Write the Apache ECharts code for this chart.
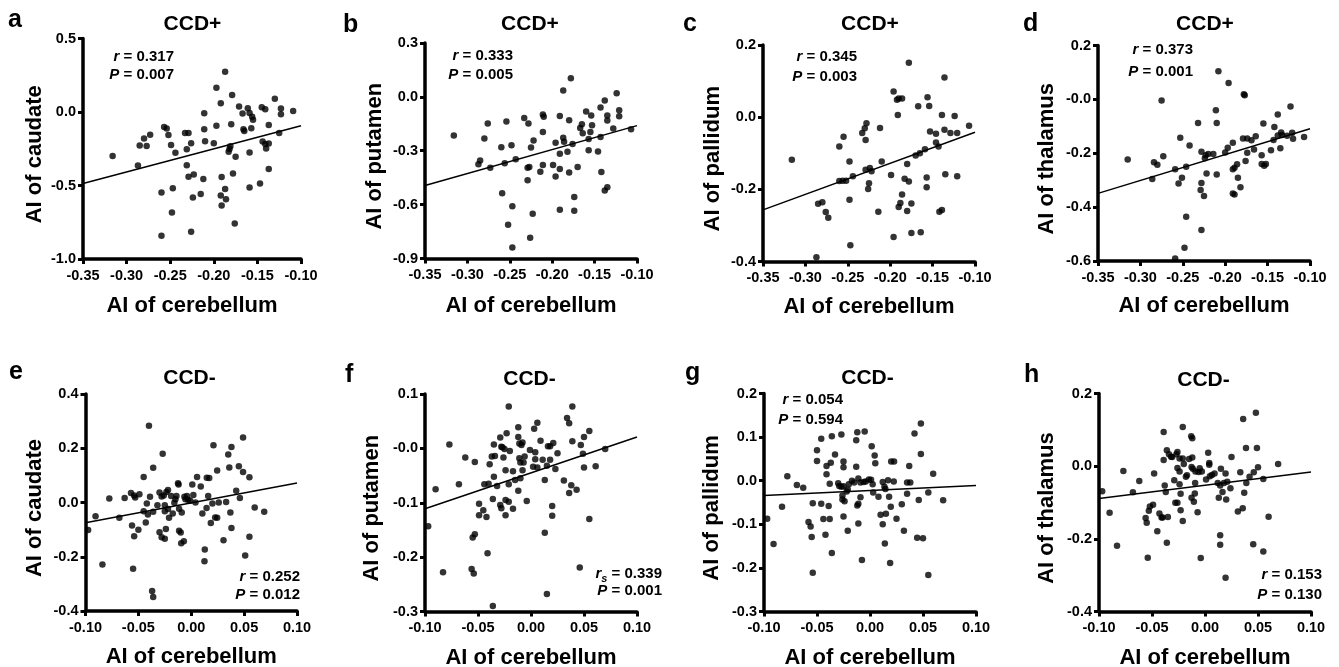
<!DOCTYPE html>
<html>
<head>
<meta charset="utf-8">
<script src="https://cdn.jsdelivr.net/npm/echarts@6/dist/echarts.min.js"></script>
<style>
html,body{margin:0;padding:0;background:#fff;}
#chart{width:1339px;height:667px;}
</style>
</head>
<body>
<div id="chart"></div>
<script>
// ---------- data ----------
const panelLetters = ['a','b','c','d','e','f','g','h'];
const panelTitles = ['CCD+','CCD+','CCD+','CCD+','CCD-','CCD-','CCD-','CCD-'];
const yNames = ['AI of caudate','AI of putamen','AI of pallidum','AI of thalamus','AI of caudate','AI of putamen','AI of pallidum','AI of thalamus'];
const xName = 'AI of cerebellum';
const rSymbols = ['r','r','r','r','r','rs','r','r'];
const rValues = ['0.317','0.333','0.345','0.373','0.252','0.339','0.054','0.153'];
const pValues = ['0.007','0.005','0.003','0.001','0.012','0.001','0.594','0.130'];

const xLab1 = ['-0.35','-0.30','-0.25','-0.20','-0.15','-0.10'];
const xLab2 = ['-0.10','-0.05','0.00','0.05','0.10'];
const yLabA = ['-1.0','-0.5','0.0','0.5'];
const yLabB = ['-0.9','-0.6','-0.3','0.0','0.3'];
const yLabC = ['-0.4','-0.2','0.0','0.2'];
const yLabD = ['-0.6','-0.4','-0.2','-0.0','0.2'];
const yLabE = ['-0.4','-0.2','0.0','0.2','0.4'];
const yLabF = ['-0.3','-0.2','-0.1','-0.0','0.1'];
const yLabG = ['-0.3','-0.2','-0.1','0.0','0.1','0.2'];
const yLabH = ['-0.4','-0.2','0.0','0.2'];

const lineA = [[-0.35,-0.486],[-0.10,-0.093]];
const lineB = [[-0.35,-0.493],[-0.10,-0.160]];
const lineC = [[-0.35,-0.257],[-0.10,-0.042]];
const lineD = [[-0.35,-0.349],[-0.10,-0.109]];
const lineE = [[-0.10,-0.075],[0.10,0.072]];
const lineF = [[-0.10,-0.111],[0.10,0.021]];
const lineG = [[-0.10,-0.034],[0.10,-0.011]];
const lineH = [[-0.10,-0.089],[0.10,-0.016]];

const dataA = [[-0.316,-0.300],[-0.287,-0.364],[-0.285,-0.228],[-0.280,-0.181],[-0.277,-0.231],[-0.273,-0.154],[-0.257,-0.102],[-0.254,-0.113],[-0.252,-0.156],[-0.249,-0.224],[-0.244,-0.278],[-0.260,-0.548],[-0.247,-0.518],[-0.248,-0.683],[-0.260,-0.842],[-0.233,-0.143],[-0.229,-0.143],[-0.231,-0.253],[-0.226,-0.213],[-0.231,-0.362],[-0.229,-0.441],[-0.223,-0.425],[-0.224,-0.581],[-0.226,-0.814],[-0.215,-0.557],[-0.211,-0.009],[-0.211,-0.118],[-0.210,-0.199],[-0.212,-0.455],[-0.200,-0.213],[-0.197,-0.093],[-0.197,0.165],[-0.192,0.059],[-0.187,0.274],[-0.191,-0.443],[-0.192,-0.568],[-0.191,-0.636],[-0.187,-0.523],[-0.186,-0.593],[-0.183,-0.271],[-0.182,-0.251],[-0.181,-0.233],[-0.180,-0.084],[-0.179,0.115],[-0.175,-0.305],[-0.178,-0.419],[-0.176,-0.758],[-0.171,0.038],[-0.167,-0.011],[-0.166,-0.118],[-0.165,-0.129],[-0.161,0.025],[-0.159,-0.007],[-0.159,-0.276],[-0.157,-0.111],[-0.156,-0.032],[-0.155,-0.052],[-0.159,-0.514],[-0.147,-0.486],[-0.145,0.032],[-0.144,-0.201],[-0.141,-0.217],[-0.141,0.018],[-0.140,-0.249],[-0.137,-0.088],[-0.137,-0.215],[-0.137,-0.387],[-0.130,0.090],[-0.123,0.023],[-0.123,-0.016],[-0.125,-0.143],[-0.109,0.007]];

const dataB = [[-0.316,-0.215],[-0.287,-0.375],[-0.285,-0.354],[-0.280,-0.232],[-0.276,-0.148],[-0.273,-0.395],[-0.260,-0.280],[-0.254,-0.137],[-0.248,-0.269],[-0.256,-0.369],[-0.243,-0.347],[-0.259,-0.536],[-0.247,-0.609],[-0.252,-0.712],[-0.247,-0.839],[-0.233,-0.117],[-0.228,-0.148],[-0.229,-0.395],[-0.227,-0.390],[-0.229,-0.464],[-0.225,-0.282],[-0.222,-0.243],[-0.223,-0.651],[-0.226,-0.785],[-0.214,-0.417],[-0.211,-0.380],[-0.211,-0.098],[-0.210,-0.111],[-0.211,-0.195],[-0.199,-0.380],[-0.196,-0.256],[-0.196,-0.443],[-0.191,-0.106],[-0.191,-0.317],[-0.191,-0.401],[-0.191,-0.629],[-0.187,0.035],[-0.187,-0.228],[-0.186,-0.250],[-0.182,-0.306],[-0.180,-0.130],[-0.180,-0.421],[-0.178,0.104],[-0.176,-0.263],[-0.174,-0.558],[-0.174,-0.634],[-0.170,-0.391],[-0.167,-0.174],[-0.165,-0.152],[-0.164,-0.202],[-0.160,-0.082],[-0.157,-0.234],[-0.157,-0.297],[-0.155,-0.195],[-0.154,-0.104],[-0.153,-0.158],[-0.146,-0.304],[-0.143,-0.059],[-0.143,-0.224],[-0.142,-0.419],[-0.138,-0.020],[-0.138,-0.521],[-0.135,-0.503],[-0.135,-0.104],[-0.135,-0.132],[-0.128,-0.176],[-0.124,0.020],[-0.121,-0.074],[-0.121,-0.108],[-0.107,-0.180]];

const dataC = [[-0.316,-0.118],[-0.285,-0.240],[-0.280,-0.236],[-0.276,-0.263],[-0.273,-0.279],[-0.287,-0.388],[-0.260,-0.081],[-0.255,-0.054],[-0.260,-0.177],[-0.256,-0.176],[-0.252,-0.176],[-0.248,-0.123],[-0.244,-0.164],[-0.248,-0.229],[-0.247,-0.355],[-0.233,-0.044],[-0.230,-0.031],[-0.228,-0.017],[-0.229,-0.063],[-0.229,-0.146],[-0.224,-0.141],[-0.222,-0.150],[-0.225,-0.183],[-0.226,-0.199],[-0.212,-0.030],[-0.210,-0.123],[-0.214,-0.262],[-0.199,-0.160],[-0.196,0.071],[-0.192,0.048],[-0.190,0.052],[-0.186,0.052],[-0.191,0.006],[-0.196,-0.332],[-0.190,-0.249],[-0.188,-0.238],[-0.186,-0.214],[-0.183,-0.171],[-0.180,-0.130],[-0.180,-0.260],[-0.178,-0.178],[-0.178,0.151],[-0.175,-0.321],[-0.175,-0.239],[-0.170,-0.106],[-0.167,0.030],[-0.165,-0.100],[-0.164,-0.319],[-0.159,-0.089],[-0.157,-0.167],[-0.157,-0.194],[-0.156,0.055],[-0.154,0.031],[-0.153,-0.040],[-0.146,-0.046],[-0.146,-0.070],[-0.143,-0.081],[-0.142,-0.262],[-0.139,-0.257],[-0.139,0.006],[-0.136,0.110],[-0.136,-0.035],[-0.135,-0.158],[-0.129,-0.044],[-0.124,0.003],[-0.121,-0.044],[-0.121,-0.164],[-0.107,-0.024]];

const dataD = [[-0.315,-0.223],[-0.286,-0.296],[-0.284,-0.233],[-0.280,-0.243],[-0.275,-0.004],[-0.273,-0.211],[-0.259,-0.259],[-0.255,-0.312],[-0.253,-0.142],[-0.251,-0.291],[-0.246,-0.250],[-0.242,-0.171],[-0.246,-0.436],[-0.248,-0.551],[-0.259,-0.591],[-0.232,-0.088],[-0.228,-0.194],[-0.228,-0.310],[-0.229,-0.336],[-0.225,-0.359],[-0.224,-0.219],[-0.223,-0.207],[-0.222,-0.275],[-0.220,-0.203],[-0.228,-0.485],[-0.214,-0.203],[-0.211,-0.040],[-0.210,-0.088],[-0.210,-0.279],[-0.208,0.104],[-0.200,-0.197],[-0.197,-0.180],[-0.196,0.061],[-0.191,-0.161],[-0.191,-0.259],[-0.189,-0.254],[-0.191,-0.349],[-0.189,-0.353],[-0.186,-0.241],[-0.185,-0.291],[-0.182,-0.326],[-0.179,-0.145],[-0.178,0.019],[-0.177,0.015],[-0.176,-0.229],[-0.174,-0.145],[-0.174,-0.198],[-0.169,-0.152],[-0.166,-0.186],[-0.164,-0.137],[-0.157,-0.207],[-0.157,-0.240],[-0.154,-0.246],[-0.152,-0.240],[-0.155,-0.090],[-0.146,-0.189],[-0.143,-0.151],[-0.142,-0.103],[-0.138,-0.056],[-0.138,-0.134],[-0.135,-0.181],[-0.134,-0.123],[-0.133,-0.132],[-0.127,-0.135],[-0.123,-0.026],[-0.121,-0.124],[-0.120,-0.146],[-0.107,-0.140]];

const dataE = [[-0.0975,-0.101],[-0.0905,-0.051],[-0.084,-0.229],[-0.0775,0.015],[-0.068,-0.056],[-0.063,0.017],[-0.057,0.035],[-0.056,-0.085],[-0.055,-0.244],[-0.054,0.026],[-0.054,-0.124],[-0.053,0.018],[-0.050,-0.100],[-0.049,0.030],[-0.045,0.094],[-0.045,-0.032],[-0.043,-0.074],[-0.042,-0.004],[-0.041,-0.044],[-0.040,0.283],[-0.039,0.021],[-0.037,-0.326],[-0.036,-0.348],[-0.036,0.128],[-0.036,-0.034],[-0.032,-0.010],[-0.030,0.037],[-0.030,-0.110],[-0.028,0.022],[-0.028,-0.128],[-0.027,0.180],[-0.026,0.026],[-0.025,-0.134],[-0.025,-0.032],[-0.024,-0.098],[-0.0235,0.039],[-0.022,0.046],[-0.025,-0.010],[-0.022,-0.024],[-0.021,-0.056],[-0.019,0.024],[-0.0175,-0.041],[-0.016,-0.001],[-0.015,0.012],[-0.014,0.024],[-0.0125,0.071],[-0.012,0.066],[-0.0115,-0.023],[-0.0115,-0.104],[-0.010,-0.111],[-0.009,-0.037],[-0.0095,-0.150],[-0.007,-0.143],[-0.0065,0.021],[-0.0055,0.012],[-0.004,0.024],[-0.003,0.010],[-0.001,0.006],[0.001,0.066],[0.002,0.028],[0.004,0.000],[0.0055,0.094],[0.009,0.059],[0.0105,-0.041],[0.0128,-0.173],[0.0125,-0.217],[0.0145,-0.020],[0.0147,0.091],[0.016,0.024],[0.017,0.090],[0.0185,-0.076],[0.020,-0.004],[0.021,0.211],[0.0226,-0.055],[0.0245,0.118],[0.0245,-0.056],[0.026,0.000],[0.0305,-0.139],[0.033,0.002],[0.035,0.177],[0.036,0.129],[0.037,-0.037],[0.038,0.205],[0.038,-0.094],[0.0425,0.043],[0.045,0.134],[0.046,0.017],[0.049,0.240],[0.049,0.112],[0.051,-0.195],[0.055,0.093],[0.055,-0.126],[0.060,-0.018],[0.069,-0.034]];

const dataF = [[-0.097,-0.143],[-0.090,-0.075],[-0.083,-0.228],[-0.077,0.007],[-0.068,-0.066],[-0.062,-0.017],[-0.056,-0.222],[-0.054,-0.230],[-0.055,-0.164],[-0.053,-0.158],[-0.053,-0.025],[-0.049,-0.102],[-0.049,-0.123],[-0.045,-0.114],[-0.044,-0.066],[-0.042,-0.126],[-0.041,-0.193],[-0.040,-0.065],[-0.039,-0.029],[-0.037,-0.015],[-0.036,-0.290],[-0.036,-0.093],[-0.035,-0.052],[-0.035,0.007],[-0.034,-0.014],[-0.032,-0.069],[-0.029,-0.104],[-0.029,0.020],[-0.028,0.003],[-0.028,-0.110],[-0.027,0.002],[-0.026,-0.017],[-0.025,-0.001],[-0.024,-0.040],[-0.024,-0.095],[-0.024,-0.123],[-0.023,0.028],[-0.021,0.077],[-0.021,-0.098],[-0.021,-0.066],[-0.020,-0.005],[-0.017,-0.042],[-0.017,-0.111],[-0.015,-0.058],[-0.012,-0.078],[-0.012,0.039],[-0.012,0.021],[-0.011,0.009],[-0.011,-0.018],[-0.010,-0.055],[-0.010,-0.026],[-0.009,0.006],[-0.008,0.011],[-0.008,-0.040],[-0.007,-0.026],[-0.006,-0.015],[-0.004,-0.097],[-0.001,-0.003],[0.002,-0.034],[0.003,0.036],[0.004,-0.007],[0.004,-0.020],[0.006,0.047],[0.006,-0.035],[0.009,0.014],[0.011,-0.021],[0.013,-0.058],[0.013,-0.155],[0.015,-0.268],[0.015,-0.032],[0.016,0.004],[0.018,-0.021],[0.018,0.004],[0.020,-0.106],[0.020,-0.124],[0.021,0.010],[0.023,-0.038],[0.025,-0.009],[0.031,-0.059],[0.034,0.056],[0.036,0.046],[0.036,-0.082],[0.038,-0.068],[0.039,0.077],[0.039,0.013],[0.043,-0.076],[0.046,-0.219],[0.047,0.006],[0.049,-0.010],[0.050,0.021],[0.050,-0.035],[0.055,0.032],[0.055,-0.130],[0.061,-0.033],[0.070,-0.001]];

const dataG = [[-0.097,-0.087],[-0.091,-0.145],[-0.083,-0.060],[-0.078,0.010],[-0.069,-0.010],[-0.063,-0.016],[-0.058,-0.095],[-0.056,-0.105],[-0.055,-0.129],[-0.054,-0.052],[-0.054,-0.211],[-0.050,0.070],[-0.050,0.045],[-0.046,0.096],[-0.046,-0.053],[-0.044,-0.088],[-0.042,-0.124],[-0.041,0.034],[-0.041,0.015],[-0.039,-0.058],[-0.038,-0.088],[-0.038,-0.007],[-0.037,0.041],[-0.036,0.102],[-0.036,-0.166],[-0.033,0.060],[-0.030,-0.006],[-0.029,-0.012],[-0.027,0.106],[-0.027,-0.014],[-0.026,-0.034],[-0.026,-0.043],[-0.025,0.044],[-0.025,0.031],[-0.025,-0.013],[-0.024,-0.047],[-0.025,-0.082],[-0.022,-0.025],[-0.021,-0.020],[-0.021,-0.115],[-0.020,-0.008],[-0.017,0.000],[-0.015,-0.004],[-0.013,0.032],[-0.013,0.093],[-0.012,0.111],[-0.012,-0.057],[-0.011,-0.053],[-0.011,-0.098],[-0.011,0.005],[-0.009,-0.004],[-0.009,-0.038],[-0.0076,-0.182],[-0.006,-0.003],[-0.005,0.113],[-0.004,-0.002],[-0.001,0.003],[0.001,0.002],[0.0016,0.079],[0.0025,-0.008],[0.003,-0.027],[0.0044,0.058],[0.005,0.040],[0.008,-0.037],[0.010,-0.078],[0.012,-0.003],[0.012,-0.100],[0.0136,-0.014],[0.014,-0.144],[0.0145,-0.019],[0.015,-0.076],[0.017,0.001],[0.018,-0.037],[0.019,-0.189],[0.0196,-0.060],[0.020,0.044],[0.0227,0.044],[0.0224,-0.002],[0.025,-0.087],[0.030,-0.054],[0.032,-0.115],[0.035,-0.004],[0.035,-0.030],[0.037,0.034],[0.038,-0.004],[0.042,0.108],[0.0445,-0.131],[0.046,-0.044],[0.048,0.131],[0.048,0.061],[0.050,-0.132],[0.055,-0.027],[0.055,-0.216],[0.0596,0.016],[0.069,-0.045]];

const dataH = [[-0.097,-0.069],[-0.090,-0.128],[-0.083,-0.219],[-0.077,-0.013],[-0.068,-0.072],[-0.062,-0.041],[-0.056,-0.143],[-0.055,-0.156],[-0.054,-0.252],[-0.052,-0.111],[-0.053,-0.123],[-0.049,-0.106],[-0.048,-0.020],[-0.045,-0.179],[-0.043,-0.130],[-0.041,-0.141],[-0.040,-0.141],[-0.039,0.094],[-0.039,0.017],[-0.038,-0.053],[-0.037,-0.071],[-0.036,-0.211],[-0.036,0.044],[-0.035,-0.140],[-0.034,0.033],[-0.032,0.026],[-0.031,0.025],[-0.029,-0.039],[-0.028,-0.101],[-0.027,0.033],[-0.026,0.039],[-0.026,-0.101],[-0.026,-0.005],[-0.024,0.021],[-0.024,-0.050],[-0.024,-0.015],[-0.023,-0.121],[-0.023,-0.076],[-0.021,0.108],[-0.021,0.021],[-0.021,-0.151],[-0.020,0.006],[-0.018,-0.029],[-0.017,-0.025],[-0.015,0.020],[-0.013,0.082],[-0.012,0.077],[-0.0127,-0.002],[-0.0127,-0.087],[-0.012,0.024],[-0.0115,-0.007],[-0.0105,-0.098],[-0.0096,-0.075],[-0.0093,-0.046],[-0.009,-0.015],[-0.007,-0.127],[-0.006,-0.016],[-0.005,-0.006],[-0.004,-0.253],[-0.003,-0.015],[0.001,-0.037],[0.003,0.037],[0.004,0.009],[0.004,0.004],[0.0046,-0.028],[0.0065,-0.024],[0.009,-0.020],[0.012,-0.046],[0.013,-0.087],[0.0143,-0.053],[0.0143,-0.190],[0.0143,-0.216],[0.015,-0.007],[0.0165,-0.071],[0.0178,-0.046],[0.0194,-0.020],[0.0194,-0.307],[0.020,-0.092],[0.021,-0.043],[0.024,-0.061],[0.025,0.025],[0.031,-0.125],[0.0333,-0.017],[0.0356,-0.116],[0.036,0.130],[0.037,-0.073],[0.0387,0.050],[0.039,-0.046],[0.042,-0.029],[0.046,-0.017],[0.0455,-0.215],[0.048,0.147],[0.049,0.050],[0.050,-0.003],[0.055,-0.035],[0.055,-0.235],[0.060,-0.139],[0.069,0.006]];

// ---------- layout ----------
const FONT = '"Liberation Sans", Arial, Helvetica, sans-serif';
const panels = [
  {data:dataA, line:lineA, xLab:xLab1, yLab:yLabA, yInt:0.5, grid:{left:83, top:38.5, width:218, height:220.5}, yGap:37, xGap:36},
  {data:dataB, line:lineB, xLab:xLab1, yLab:yLabB, yInt:0.3, grid:{left:425, top:43, width:212, height:215.5}, yGap:39, xGap:36},
  {data:dataC, line:lineC, xLab:xLab1, yLab:yLabC, yInt:0.2, grid:{left:763, top:45, width:212, height:216.5}, yGap:39, xGap:34},
  {data:dataD, line:lineD, xLab:xLab1, yLab:yLabD, yInt:0.2, grid:{left:1098, top:45.5, width:212, height:215.5}, yGap:40, xGap:34},
  {data:dataE, line:lineE, xLab:xLab2, yLab:yLabE, yInt:0.2, grid:{left:85.5, top:394, width:211.5, height:217}, yGap:40, xGap:35},
  {data:dataF, line:lineF, xLab:xLab2, yLab:yLabF, yInt:0.1, grid:{left:425, top:394, width:212, height:217.5}, yGap:42, xGap:35},
  {data:dataG, line:lineG, xLab:xLab2, yLab:yLabG, yInt:0.1, grid:{left:764, top:393.5, width:212, height:218}, yGap:41, xGap:35},
  {data:dataH, line:lineH, xLab:xLab2, yLab:yLabH, yInt:0.2, grid:{left:1099, top:393.5, width:212, height:218}, yGap:41, xGap:35}
];
const letterPos = [[8,20],[343,25],[683,24],[1023,24],[9,372],[345,375],[685,373],[1024,375]];
const titlePos = [[192.5,24.5],[530,24.5],[870,24.5],[1205,24.5],[189.5,378.5],[529.5,379.5],[867.5,378.5],[1203.5,380]];
const statPos = [[174,56.5,75],[513,55.5,75],[857,56.5,76.5],[1193,50,71.5],[300,576.5,595],[662,573.5,591],[843,400,420],[1322,575,594.5]];

function labelFmt(labels){
  return function(v){
    for (const l of labels){ if (Math.abs(parseFloat(l) - v) < 1e-7) return l; }
    return '';
  };
}

const grid = [], xAxis = [], yAxis = [], series = [], graphic = [];
const axisLineStyle = {show:true, onZero:false, lineStyle:{color:'#000', width:3.5}};
const tickStyle = {show:true, length:5, lineStyle:{color:'#000', width:3}};
const tickFont = {color:'#000', fontWeight:'bold', fontSize:14.5, fontFamily:FONT, showMinLabel:true, showMaxLabel:true};

panels.forEach((p, i) => {
  grid.push(Object.assign({containLabel:false, outerBoundsMode:'none'}, p.grid));
  const xmin = parseFloat(p.xLab[0]), xmax = parseFloat(p.xLab[p.xLab.length-1]);
  const ymin = parseFloat(p.yLab[0]), ymax = parseFloat(p.yLab[p.yLab.length-1]);
  xAxis.push({
    type:'value', gridIndex:i, min:xmin, max:xmax, interval:0.05,
    axisLine:axisLineStyle, axisTick:tickStyle, splitLine:{show:false},
    axisLabel:Object.assign({margin:9, formatter:labelFmt(p.xLab)}, tickFont),
    name:xName, nameLocation:'middle', nameGap:p.xGap,
    nameTextStyle:{color:'#000', fontWeight:'bold', fontSize:22, fontFamily:FONT}
  });
  yAxis.push({
    type:'value', gridIndex:i, min:ymin, max:ymax, interval:p.yInt,
    axisLine:axisLineStyle, axisTick:tickStyle, splitLine:{show:false},
    axisLabel:Object.assign({margin:7, formatter:labelFmt(p.yLab)}, tickFont),
    name:yNames[i], nameLocation:'middle', nameGap:p.yGap,
    nameTextStyle:{color:'#000', fontWeight:'bold', fontSize:22, fontFamily:FONT, padding:[0,11,0,0]}
  });
  series.push({
    type:'scatter', xAxisIndex:i, yAxisIndex:i, data:p.data,
    symbol:'circle', symbolSize:6.5, itemStyle:{color:'#000'}, silent:true
  });
  series.push({
    type:'line', xAxisIndex:i, yAxisIndex:i, data:p.line,
    symbol:'none', lineStyle:{color:'#000', width:1.5}, silent:true
  });

  graphic.push({
    type:'text', x:letterPos[i][0], y:letterPos[i][1], silent:true,
    style:{text:panelLetters[i], fill:'#000', fontSize:25, fontWeight:'bold', fontFamily:FONT,
      align:'left', verticalAlign:'middle', textAlign:'left', textVerticalAlign:'middle'}
  });
  graphic.push({
    type:'text', x:titlePos[i][0], y:titlePos[i][1], silent:true,
    style:{text:panelTitles[i], fill:'#000', fontSize:21, fontWeight:'bold', fontFamily:FONT,
      align:'center', verticalAlign:'middle', textAlign:'center', textVerticalAlign:'middle'}
  });
  const base = {fill:'#000', fontSize:15, fontWeight:'bold', fontFamily:FONT};
  const rich = {
    it:{fontSize:15, fontWeight:'bold', fontStyle:'italic', fontFamily:FONT, fill:'#000', lineHeight:22},
    n:{fontSize:15, fontWeight:'bold', fontFamily:FONT, fill:'#000', lineHeight:22},
    sub:{fontSize:11, fontWeight:'bold', fontStyle:'italic', fontFamily:FONT, fill:'#000', lineHeight:8, verticalAlign:'bottom'}
  };
  const rText = rSymbols[i] === 'rs'
    ? '{it|r}{sub|s}{n| = ' + rValues[i] + '}'
    : '{it|r}{n| = ' + rValues[i] + '}';
  graphic.push({
    type:'text', x:statPos[i][0], y:statPos[i][1], silent:true,
    style:Object.assign({}, base, {text:rText, rich:rich, align:'right', verticalAlign:'middle', textAlign:'right', textVerticalAlign:'middle'})
  });
  graphic.push({
    type:'text', x:statPos[i][0], y:statPos[i][2], silent:true,
    style:Object.assign({}, base, {text:'{it|P}{n| = ' + pValues[i] + '}', rich:rich, align:'right', verticalAlign:'middle', textAlign:'right', textVerticalAlign:'middle'})
  });
});

const chart = echarts.init(document.getElementById('chart'), null, {renderer:'canvas'});
chart.setOption({
  backgroundColor:'#fff',
  animation:false,
  grid, xAxis, yAxis, series, graphic
});
</script>
</body>
</html>
